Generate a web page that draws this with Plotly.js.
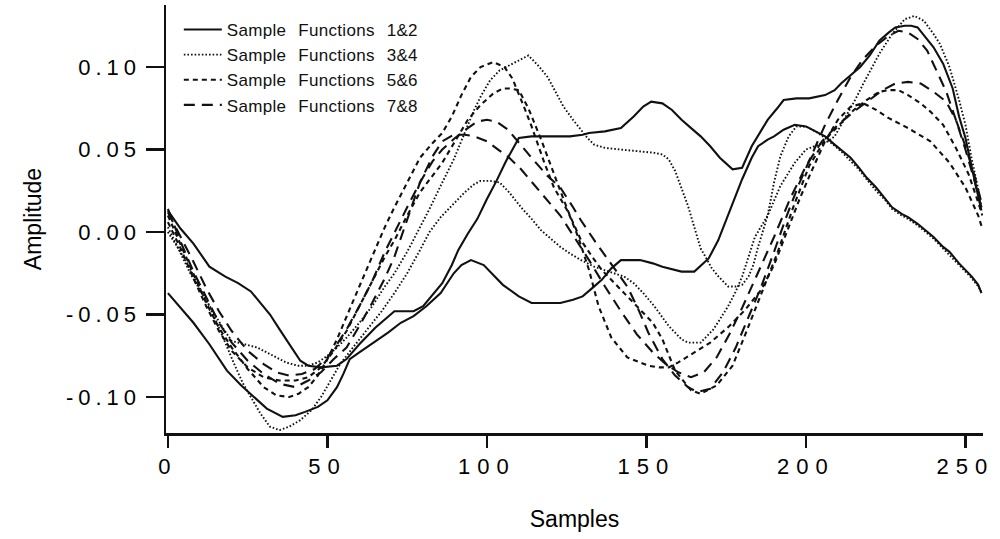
<!DOCTYPE html>
<html>
<head>
<meta charset="utf-8">
<script src="https://cdn.plot.ly/plotly-3.0.1.min.js"></script>
<style>
  html, body { margin: 0; padding: 0; background: #fff; }
  #chart { width: 1000px; height: 539px; }
  .xtick text { letter-spacing: 7px; }
  .ytick text { letter-spacing: 5px; }
  .legendtext { word-spacing: 7px; letter-spacing: 0.3px; }
</style>
</head>
<body>
<div id="chart"></div>
<script>
// ---- data: [sample, amplitude] ----
const solid1 = [[0,0.013],[4,0.002],[8,-0.007],[13,-0.021],[18,-0.027],[22,-0.031],[26,-0.036],[29,-0.043],[32,-0.05],[35,-0.059],[38,-0.068],[41.5,-0.078],[44,-0.081],[48,-0.082],[53,-0.081],[56,-0.077],[60,-0.068],[65,-0.058],[71,-0.048],[77,-0.048],[80,-0.045],[83,-0.038],[86,-0.031],[89,-0.02],[91,-0.011],[94,-0.001],[97,0.008],[100,0.02],[103,0.031],[106,0.043],[110,0.057],[114,0.058],[120,0.058],[126,0.058],[130,0.059],[132,0.06],[137,0.061],[142,0.063],[146,0.07],[149,0.076],[151.5,0.079],[155,0.078],[158,0.074],[161,0.068],[164,0.063],[167,0.058],[170,0.052],[173,0.045],[177,0.038],[180,0.039],[183,0.052],[186,0.062],[188,0.068],[191,0.075],[193,0.08],[197,0.081],[201,0.081],[206,0.083],[209,0.086],[211,0.09],[214,0.095],[217,0.1],[220,0.107],[223,0.116],[226,0.121],[228,0.124],[231,0.125],[233,0.125],[235,0.124],[237.5,0.118],[240,0.112],[243,0.102],[246,0.087],[248,0.07],[250,0.057],[252,0.039],[254,0.022],[255,0.013]];
const solid2 = [[0,-0.037],[4,-0.046],[8,-0.055],[13,-0.068],[18.5,-0.084],[23,-0.093],[27,-0.1],[31,-0.107],[36,-0.112],[40,-0.111],[43,-0.109],[47,-0.106],[50,-0.102],[53,-0.094],[55,-0.086],[57,-0.077],[60,-0.073],[64.5,-0.067],[69,-0.061],[73,-0.055],[77,-0.051],[81,-0.045],[85.5,-0.037],[89.6,-0.025],[92,-0.02],[95,-0.017],[99,-0.02],[102,-0.026],[105,-0.032],[110,-0.039],[114,-0.043],[119,-0.043],[123,-0.043],[127,-0.041],[130,-0.039],[133,-0.034],[136,-0.029],[139,-0.022],[142,-0.017],[148,-0.017],[152,-0.019],[155,-0.021],[161,-0.024],[165,-0.024],[169.5,-0.016],[172.5,-0.005],[174.5,0.005],[177,0.018],[180,0.032],[183,0.045],[185,0.052],[188,0.056],[190,0.058],[193,0.062],[196.5,0.065],[200,0.064],[203,0.061],[206,0.058],[209,0.053],[211,0.05],[214,0.045],[216.6,0.039],[219,0.033],[222,0.027],[225,0.02],[227,0.015],[230,0.011],[232,0.009],[235,0.005],[237.5,0.001],[240,-0.003],[243,-0.009],[245,-0.012],[248,-0.019],[250,-0.023],[252,-0.027],[254,-0.032],[255,-0.037]];
const dotted3 = [[0,0.003],[2,-0.005],[4.7,-0.015],[7,-0.025],[10,-0.035],[12.5,-0.043],[15,-0.051],[17.5,-0.059],[20,-0.066],[24,-0.068],[28,-0.07],[31,-0.073],[34,-0.076],[37,-0.079],[40.6,-0.081],[44,-0.081],[47,-0.079],[50,-0.075],[53,-0.07],[56,-0.064],[60,-0.055],[64,-0.045],[68,-0.033],[71,-0.025],[75,-0.012],[79,0.003],[82,0.014],[86,0.03],[89.6,0.044],[93,0.06],[96,0.074],[98,0.082],[101,0.092],[104,0.098],[107,0.101],[110,0.104],[113,0.107],[116,0.101],[119,0.094],[121.5,0.085],[124,0.076],[127,0.068],[129.5,0.062],[131.5,0.057],[133.6,0.053],[137,0.051],[142,0.05],[147,0.049],[152.5,0.048],[155,0.047],[157,0.044],[159,0.037],[161,0.027],[163,0.016],[165,0.003],[167,-0.01],[168.5,-0.015],[170.5,-0.022],[172.6,-0.027],[175.6,-0.033],[178,-0.033],[180,-0.032],[182,-0.027],[183.5,-0.02],[185,-0.009],[188,0.01],[190,0.03],[192,0.046],[194.6,0.058],[197,0.064],[200,0.064],[203,0.061],[206,0.057],[209,0.052],[211,0.049],[214,0.043],[216.6,0.038],[219,0.032],[222,0.025],[225,0.019],[227,0.014],[230,0.01],[232,0.008],[235,0.004],[237.5,0.0],[240,-0.004],[243,-0.01],[245,-0.014],[248,-0.02],[250,-0.024],[252,-0.028],[254,-0.033],[255,-0.036]];
const dotted4 = [[0,0.0],[3,-0.009],[6,-0.019],[9.5,-0.032],[13,-0.045],[16,-0.058],[18.5,-0.07],[21,-0.081],[23.6,-0.092],[26.5,-0.102],[29,-0.11],[32,-0.118],[35,-0.12],[38,-0.118],[41.5,-0.114],[45,-0.108],[48,-0.1],[51,-0.09],[54,-0.08],[58,-0.07],[62.6,-0.059],[67,-0.048],[71,-0.037],[75,-0.025],[79,-0.011],[82,0.0],[85.5,0.009],[89.6,0.017],[93,0.024],[96,0.029],[98,0.031],[101,0.031],[104,0.03],[107,0.024],[110.7,0.015],[114,0.008],[117,0.001],[120,-0.004],[123,-0.009],[126,-0.013],[129.5,-0.017],[133.6,-0.021],[137,-0.023],[140,-0.025],[143,-0.027],[146,-0.031],[149,-0.037],[152.5,-0.045],[155,-0.052],[157,-0.057],[159,-0.061],[161,-0.065],[163,-0.067],[165,-0.067],[167,-0.067],[169,-0.063],[171,-0.059],[173,-0.053],[175.6,-0.045],[178,-0.036],[180,-0.027],[182,-0.015],[184,-0.003],[188,0.01],[192,0.028],[196.5,0.042],[200,0.05],[204,0.053],[207,0.055],[209,0.058],[212,0.068],[215.4,0.08],[218,0.09],[220,0.097],[223,0.108],[227,0.12],[231,0.129],[234,0.131],[237,0.128],[240,0.12],[242,0.114],[245,0.1],[248,0.08],[250,0.065],[252,0.044],[254,0.026],[255,0.015]];
const dash5 = [[0,0.01],[4,-0.008],[8,-0.026],[12,-0.043],[16,-0.058],[20,-0.07],[25,-0.083],[30,-0.094],[34,-0.099],[38,-0.1],[41,-0.098],[44,-0.094],[47,-0.087],[50,-0.077],[53,-0.065],[56,-0.051],[60,-0.033],[64,-0.015],[68,0.003],[71,0.015],[75,0.03],[79,0.045],[83,0.054],[86,0.06],[89,0.07],[92,0.083],[95,0.094],[98,0.1],[102,0.103],[105.5,0.1],[108,0.093],[110,0.084],[112,0.074],[114,0.064],[116,0.053],[118,0.042],[121,0.027],[125.5,0.012],[128.6,-0.003],[132,-0.023],[135,-0.045],[139,-0.064],[144,-0.076],[150.6,-0.081],[154,-0.082],[157,-0.082],[160,-0.079],[165,-0.073],[170,-0.067],[176,-0.057],[181,-0.047],[186,-0.035],[190,-0.02],[194,0.0],[198,0.02],[202,0.038],[206,0.055],[210,0.068],[214,0.076],[218,0.078],[222,0.074],[226,0.069],[232,0.063],[239,0.055],[245,0.042],[250,0.027],[254,0.01],[255.3,0.002]];
const dash6 = [[0,0.006],[4,-0.01],[8,-0.028],[12,-0.045],[16,-0.06],[20,-0.072],[25,-0.082],[30,-0.088],[35,-0.09],[40,-0.09],[44,-0.088],[48,-0.082],[52,-0.072],[56,-0.06],[60,-0.045],[64,-0.03],[68,-0.015],[71,-0.005],[75,0.01],[79,0.024],[83,0.034],[86,0.042],[90,0.055],[94,0.068],[98,0.077],[102,0.084],[105,0.087],[107,0.087],[110,0.086],[113,0.075],[117,0.056],[120,0.04],[123,0.025],[126,0.01],[129.5,-0.005],[133,-0.015],[136,-0.023],[142,-0.035],[148,-0.047],[152,-0.055],[155,-0.065],[159,-0.084],[164,-0.096],[167,-0.098],[172,-0.093],[177,-0.081],[181,-0.062],[186,-0.038],[191,-0.013],[196,0.015],[201,0.04],[206,0.056],[211,0.066],[215,0.074],[219,0.08],[223,0.085],[226,0.086],[229,0.086],[232,0.083],[236,0.078],[239,0.073],[243,0.065],[247,0.051],[251,0.035],[254,0.018],[255.3,0.01]];
const longdash7 = [[0,0.012],[4,-0.003],[8,-0.018],[12,-0.034],[16,-0.048],[20,-0.06],[25,-0.072],[30,-0.08],[34,-0.085],[38,-0.087],[42,-0.086],[46,-0.083],[50,-0.076],[53,-0.068],[56,-0.059],[60,-0.045],[64,-0.03],[68,-0.012],[71,0.0],[75,0.015],[79,0.03],[83,0.043],[86,0.05],[90,0.057],[94,0.063],[97,0.067],[100,0.068],[103,0.067],[106.6,0.062],[110,0.054],[114,0.045],[119,0.034],[123,0.027],[127,0.015],[129.5,0.007],[134,-0.006],[138,-0.017],[141,-0.025],[144,-0.033],[147.5,-0.047],[150.6,-0.061],[155,-0.077],[159,-0.087],[163,-0.094],[166,-0.097],[170,-0.095],[174,-0.085],[178,-0.07],[182,-0.052],[186,-0.033],[190,-0.012],[194,0.01],[198,0.03],[202,0.048],[206,0.065],[210,0.08],[214,0.094],[218,0.105],[222,0.113],[226,0.119],[229,0.122],[232,0.121],[235,0.117],[238,0.11],[241,0.098],[244,0.085],[247,0.068],[250,0.05],[253,0.03],[255,0.015]];
const longdash8 = [[0,0.014],[4,-0.006],[8,-0.024],[12,-0.04],[16,-0.055],[20,-0.067],[25,-0.078],[30,-0.086],[35,-0.092],[40,-0.094],[44,-0.09],[48,-0.085],[52,-0.077],[56,-0.07],[60,-0.057],[64,-0.043],[68,-0.028],[71,-0.015],[75,0.008],[79,0.03],[83,0.046],[86,0.055],[89.6,0.059],[93,0.059],[96,0.058],[100,0.055],[103.5,0.05],[107,0.045],[110.7,0.038],[115,0.028],[119,0.019],[123,0.01],[127,-0.002],[132,-0.017],[137,-0.033],[142,-0.048],[147,-0.062],[152,-0.073],[156,-0.08],[160,-0.085],[164,-0.088],[168,-0.085],[172,-0.076],[176,-0.062],[180,-0.046],[185,-0.025],[190,-0.003],[195,0.02],[200,0.04],[205,0.055],[210,0.065],[215,0.073],[220,0.08],[224,0.086],[228,0.09],[232,0.091],[236,0.09],[240,0.085],[244,0.079],[247,0.068],[250,0.052],[253,0.033],[255,0.018]];

const legendNames = ["Sample Functions 1&2", "Sample Functions 3&4", "Sample Functions 5&6", "Sample Functions 7&8"];
const xTickVals = [0, 50, 100, 150, 200, 250];
const xTickText = ["0", "50", "100", "150", "200", "250"];
const yTickVals = [-0.10, -0.05, 0.00, 0.05, 0.10];
const yTickText = ["-0.10", "-0.05", "0.00", "0.05", "0.10"];

const series = [
  {d: solid1, g: 0, dash: "solid", w: 2.1},
  {d: solid2, g: 0, dash: "solid", w: 2.1},
  {d: dotted3, g: 1, dash: "1.6px,2px", w: 1.9},
  {d: dotted4, g: 1, dash: "1.6px,2px", w: 1.9},
  {d: dash5, g: 2, dash: "5px,4px", w: 2.1},
  {d: dash6, g: 2, dash: "5px,4px", w: 2.1},
  {d: longdash7, g: 3, dash: "11px,7px", w: 2.1},
  {d: longdash8, g: 3, dash: "11px,7px", w: 2.1}
];

const seen = {};
const traces = series.map(s => {
  const first = !seen[s.g];
  seen[s.g] = true;
  return {
    x: s.d.map(p => p[0]),
    y: s.d.map(p => p[1]),
    type: "scatter",
    mode: "lines",
    name: legendNames[s.g],
    legendgroup: "g" + s.g,
    showlegend: first,
    line: {color: "#111", width: s.w, dash: s.dash, shape: "linear"},
    hoverinfo: "skip"
  };
});

const FONT = "Liberation Sans, Arial, Helvetica, sans-serif";
const layout = {
  width: 1000, height: 539,
  paper_bgcolor: "#fff", plot_bgcolor: "#fff",
  margin: {l: 166, r: 17, t: 5, b: 106, pad: 0},
  font: {family: FONT, color: "#000"},
  showlegend: true,
  legend: {
    x: 0.0157, y: 0.9836, xanchor: "left", yanchor: "top",
    bgcolor: "rgba(0,0,0,0)", borderwidth: 0,
    font: {family: FONT, size: 17, color: "#111"},
    tracegroupgap: 0, itemwidth: 38
  },
  xaxis: {
    range: [-0.6, 255.5],
    tickmode: "array", tickvals: xTickVals, ticktext: xTickText,
    ticks: "outside", ticklen: 12, tickwidth: 2.5, tickcolor: "#111",
    showline: true, linewidth: 2.5, linecolor: "#111",
    showgrid: false, zeroline: false,
    tickfont: {family: FONT, size: 22, color: "#000"},
    title: {text: "Samples", font: {family: FONT, size: 23, color: "#000"}, standoff: 33},
    automargin: false
  },
  yaxis: {
    range: [-0.1218, 0.1376],
    tickmode: "array", tickvals: yTickVals, ticktext: yTickText,
    ticks: "outside", ticklen: 18, tickwidth: 2.5, tickcolor: "#111",
    showline: true, linewidth: 2.5, linecolor: "#111",
    showgrid: false, zeroline: false,
    tickfont: {family: FONT, size: 22, color: "#000"},
    title: {text: "Amplitude", font: {family: FONT, size: 23, color: "#000"}, standoff: 18},
    automargin: false
  }
};

Plotly.newPlot("chart", traces, layout, {staticPlot: true, displayModeBar: false});
</script>
</body>
</html>
